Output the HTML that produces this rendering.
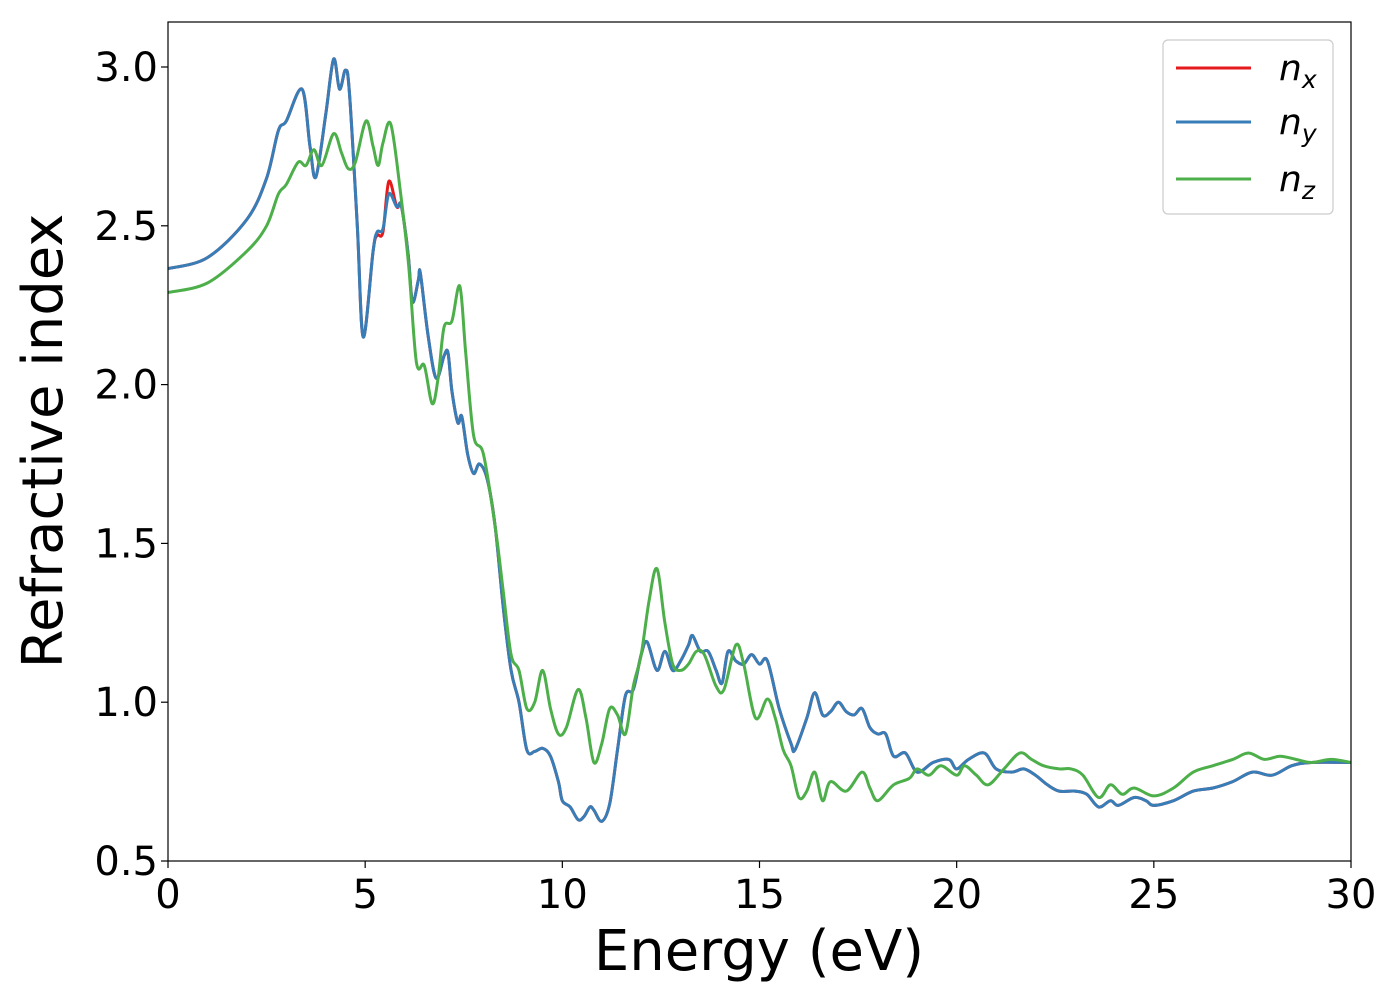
<!DOCTYPE html>
<html><head><meta charset="utf-8"><style>
body{margin:0;background:#fff;}
svg text{font-family:"DejaVu Sans","Liberation Sans",sans-serif;}
</style></head><body>
<svg id="chart" width="1400" height="1000" xmlns="http://www.w3.org/2000/svg">
<g id="plot"></g>
</svg>
<script>
const blueE=[0,1,2,2.5,2.8,3.0,3.4,3.6,3.75,4.0,4.2,4.35,4.5,4.6,4.8,4.95,5.2,5.3,5.45,5.6,5.8,5.9,6.0,6.1,6.2,6.35,6.4,6.6,6.8,7.0,7.1,7.2,7.35,7.45,7.6,7.75,7.9,8.1,8.3,8.5,8.7,8.9,9.1,9.3,9.5,9.7,9.9,10.0,10.2,10.4,10.55,10.7,10.8,11.0,11.2,11.4,11.6,11.8,12.0,12.15,12.4,12.6,12.8,13.0,13.2,13.3,13.5,13.7,13.9,14.05,14.2,14.4,14.6,14.8,15.0,15.2,15.5,15.8,15.9,16.2,16.4,16.6,16.8,17.0,17.2,17.4,17.6,17.8,18.0,18.2,18.4,18.7,19.0,19.4,19.8,20.0,20.3,20.7,21.0,21.4,21.7,22.0,22.3,22.6,23.0,23.3,23.6,23.9,24.1,24.5,24.8,25.0,25.5,26.0,26.5,27.0,27.5,28.0,28.5,29.0,30];
const nyVals=[2.365,2.40,2.52,2.65,2.80,2.83,2.93,2.75,2.654,2.85,3.025,2.93,2.99,2.92,2.5,2.15,2.42,2.48,2.49,2.60,2.56,2.57,2.5,2.40,2.26,2.33,2.35,2.15,2.02,2.09,2.10,1.98,1.88,1.90,1.78,1.72,1.75,1.70,1.55,1.30,1.10,1.00,0.85,0.845,0.855,0.83,0.75,0.69,0.67,0.63,0.64,0.67,0.66,0.625,0.68,0.85,1.02,1.04,1.15,1.19,1.10,1.16,1.10,1.13,1.18,1.21,1.16,1.16,1.10,1.06,1.16,1.13,1.12,1.15,1.12,1.13,0.98,0.87,0.85,0.95,1.03,0.96,0.97,1.00,0.97,0.96,0.98,0.92,0.90,0.90,0.83,0.84,0.78,0.81,0.82,0.79,0.82,0.84,0.79,0.78,0.79,0.77,0.74,0.72,0.72,0.71,0.67,0.69,0.675,0.70,0.69,0.675,0.69,0.72,0.73,0.75,0.78,0.77,0.80,0.81,0.81];
const nxVals=[2.365,2.40,2.52,2.65,2.80,2.83,2.93,2.75,2.654,2.85,3.025,2.93,2.99,2.92,2.5,2.15,2.42,2.47,2.48,2.64,2.56,2.57,2.5,2.40,2.26,2.33,2.35,2.15,2.02,2.09,2.10,1.98,1.88,1.90,1.78,1.72,1.75,1.70,1.55,1.30,1.10,1.00,0.85,0.845,0.855,0.83,0.75,0.69,0.67,0.63,0.64,0.67,0.66,0.625,0.68,0.85,1.02,1.04,1.15,1.19,1.10,1.16,1.10,1.13,1.18,1.21,1.16,1.16,1.10,1.06,1.16,1.13,1.12,1.15,1.12,1.13,0.98,0.87,0.85,0.95,1.03,0.96,0.97,1.00,0.97,0.96,0.98,0.92,0.90,0.90,0.83,0.84,0.78,0.81,0.82,0.79,0.82,0.84,0.79,0.78,0.79,0.77,0.74,0.72,0.72,0.71,0.67,0.69,0.675,0.70,0.69,0.675,0.69,0.72,0.73,0.75,0.78,0.77,0.80,0.81,0.81];
const greenE=[0,1,2,2.5,2.8,3.0,3.3,3.5,3.7,3.9,4.2,4.4,4.57,4.75,5.02,5.2,5.33,5.45,5.65,5.9,6.1,6.3,6.5,6.7,6.85,7.0,7.2,7.4,7.55,7.75,8.0,8.3,8.5,8.7,8.9,9.1,9.3,9.5,9.7,9.9,10.1,10.4,10.6,10.8,11.0,11.2,11.4,11.6,11.8,12.0,12.2,12.4,12.6,12.8,13.0,13.2,13.4,13.6,13.9,14.1,14.4,14.6,14.9,15.2,15.4,15.6,15.8,16.0,16.2,16.4,16.6,16.8,17.2,17.6,17.8,18.0,18.4,18.8,19.0,19.3,19.6,20.0,20.2,20.5,20.8,21.2,21.6,21.9,22.2,22.6,22.9,23.2,23.6,23.9,24.2,24.5,25.0,25.5,26.0,26.5,27.0,27.4,27.8,28.2,28.6,29.0,29.5,30];
const nzVals=[2.29,2.32,2.42,2.50,2.60,2.63,2.70,2.69,2.74,2.69,2.79,2.73,2.68,2.70,2.83,2.75,2.69,2.76,2.82,2.60,2.38,2.07,2.06,1.94,2.02,2.18,2.20,2.31,2.10,1.84,1.78,1.55,1.35,1.15,1.10,0.98,1.00,1.10,0.98,0.90,0.92,1.04,0.95,0.81,0.87,0.98,0.96,0.90,1.05,1.15,1.32,1.42,1.25,1.12,1.10,1.12,1.16,1.15,1.05,1.04,1.18,1.12,0.95,1.01,0.95,0.85,0.80,0.70,0.72,0.78,0.69,0.75,0.72,0.78,0.73,0.69,0.74,0.76,0.79,0.77,0.80,0.77,0.80,0.77,0.74,0.79,0.84,0.82,0.80,0.79,0.79,0.77,0.70,0.74,0.71,0.73,0.705,0.73,0.78,0.80,0.82,0.84,0.82,0.83,0.82,0.81,0.82,0.81];
const xTicks=[0,5,10,15,20,25,30];
const yTicks=[0.5,1.0,1.5,2.0,2.5,3.0];

const NS='http://www.w3.org/2000/svg';
const L=168,R=1351,T=22,B=861;
const xs=v=>L+(v-0)/30*(R-L);
const ys=v=>67+(3.0-v)/2.5*(861-67);
const svg=document.getElementById('chart');
const g=document.getElementById('plot');
function mk(t,a,p){const e=document.createElementNS(NS,t);for(const k in a)e.setAttribute(k,a[k]);(p||svg).appendChild(e);return e;}
function path(E,V){
  const P=E.map((e,i)=>[xs(e),ys(V[i])]);
  let d='M'+P[0][0].toFixed(1)+','+P[0][1].toFixed(1);
  for(let i=0;i<P.length-1;i++){
    const p0=P[Math.max(0,i-1)],p1=P[i],p2=P[i+1],p3=P[Math.min(P.length-1,i+2)];
    const c1x=p1[0]+(p2[0]-p0[0])/6,c1y=p1[1]+(p2[1]-p0[1])/6;
    const c2x=p2[0]-(p3[0]-p1[0])/6,c2y=p2[1]-(p3[1]-p1[1])/6;
    d+=' C'+c1x.toFixed(1)+','+c1y.toFixed(1)+' '+c2x.toFixed(1)+','+c2y.toFixed(1)+' '+p2[0].toFixed(1)+','+p2[1].toFixed(1);
  }
  return d;
}
const cp=mk('clipPath',{id:'clip'});mk('rect',{x:L,y:T,width:R-L,height:B-T},cp);
const s1=mk('path',{d:path(blueE,nxVals),fill:'none',stroke:'#e41a1c','stroke-width':3,'clip-path':'url(#clip)'},g);


const s2=mk('path',{d:path(blueE,nyVals),fill:'none',stroke:'#377eb8','stroke-width':3,'clip-path':'url(#clip)'},g);


const s3=mk('path',{d:path(greenE,nzVals),fill:'none',stroke:'#4daf4a','stroke-width':3,'clip-path':'url(#clip)'},g);


const fr=mk('rect',{x:L,y:T,width:R-L,height:B-T,fill:'none',stroke:'#000','stroke-width':1.2});


xTicks.forEach(v=>{
  mk('line',{x1:xs(v),x2:xs(v),y1:B,y2:B+7,stroke:'#000','stroke-width':1.2});
  const t=mk('text',{x:xs(v),y:B+47,'font-size':40,'text-anchor':'middle'});t.textContent=v;
  
  
});
yTicks.forEach(v=>{
  mk('line',{x1:L-7,x2:L,y1:ys(v),y2:ys(v),stroke:'#000','stroke-width':1.2});
  const t=mk('text',{x:L-10,y:ys(v)+14,'font-size':40,'text-anchor':'end'});t.textContent=v.toFixed(1);
  
  
});
const xl=mk('text',{x:759,y:970,'font-size':56,'text-anchor':'middle'});xl.textContent='Energy (eV)';


const yl=mk('text',{x:62,y:441,'font-size':56,'text-anchor':'middle',transform:'rotate(-90 62 441)'});yl.textContent='Refractive index';


const lg=mk('g',{});


mk('rect',{x:1163,y:40,width:170,height:174,rx:5,fill:'#fff',stroke:'#ccc','stroke-width':1.2},lg);
const ents=[['x','#e41a1c',68],['y','#377eb8',122],['z','#4daf4a',179]];
ents.forEach(e=>{
  const eg=mk('g',{},lg);
  
  
  mk('line',{x1:1176,x2:1251,y1:e[2],y2:e[2],stroke:e[1],'stroke-width':3},eg);
  const t=mk('text',{x:1279,y:e[2]+12,'font-size':36,'font-style':'italic'},eg);
  t.innerHTML='n<tspan font-size="25" dy="8">'+e[0]+'</tspan>';
});
</script>
</body></html>
